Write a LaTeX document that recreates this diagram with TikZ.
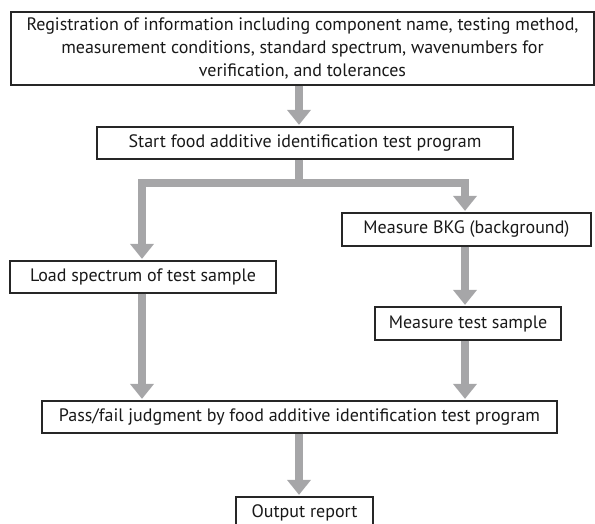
\documentclass[tikz,border=0pt]{standalone}
\usepackage{fontspec}
\setmainfont{PT Sans}
\usetikzlibrary{arrows.meta}
\definecolor{arrowgray}{RGB}{166,166,168}

\begin{document}
\begin{tikzpicture}[x=1pt,y=-1pt,
    box/.style={draw=black!85, line width=1.2pt, fill=white, inner sep=0pt,
                align=center, text=black!90, font=\fontsize{18}{22.7}\selectfont},
    bar/.style={draw=arrowgray, line width=8pt, line join=miter},
    flow/.style={bar, -{Triangle[width=23pt,length=15pt]}, shorten >=1.5pt}]
    \useasboundingbox (0,0) rectangle (595,524);

    % Boxes
    \node[box, minimum width=583, minimum height=73] (reg) at (302.5,48.5)
        {Registration of information including component name, testing method,\\
         measurement conditions, standard spectrum, wavenumbers for\\
         verification, and tolerances};
    \node[box, minimum width=416, minimum height=32] (start) at (305,143)
        {Start food additive identification test program};
    \node[box, minimum width=249, minimum height=33] (bkg) at (466.5,229.5)
        {Measure BKG (background)};
    \node[box, minimum width=266, minimum height=32] (load) at (143,277)
        {Load spectrum of test sample};
    \node[box, minimum width=186, minimum height=33] (meas) at (468,323.5)
        {Measure test sample};
    \node[box, minimum width=515, minimum height=32] (judge) at (299.5,417)
        {Pass/fail judgment by food additive identification test program};
    \node[box, minimum width=137, minimum height=32] (report) at (304.5,513)
        {Output report};

    % Arrows
    \coordinate (split) at (299,183.5);
    \draw[flow] (reg.south -| split) -- (start.north -| split);
    \draw[bar] (start.south -| split) -- (split);
    \draw[flow] (split) -| (142,0 |- load.north);
    \draw[flow] (split) -| (465,0 |- bkg.north);
    \draw[flow] (bkg.south -| 465,0) -- (meas.north -| 465,0);
    \draw[flow] (meas.south -| 465,0) -- (judge.north -| 465,0);
    \draw[flow] (load.south -| 142,0) -- (judge.north -| 142,0);
    \draw[flow] (judge.south -| split) -- (report.north -| split);
\end{tikzpicture}
\end{document}
